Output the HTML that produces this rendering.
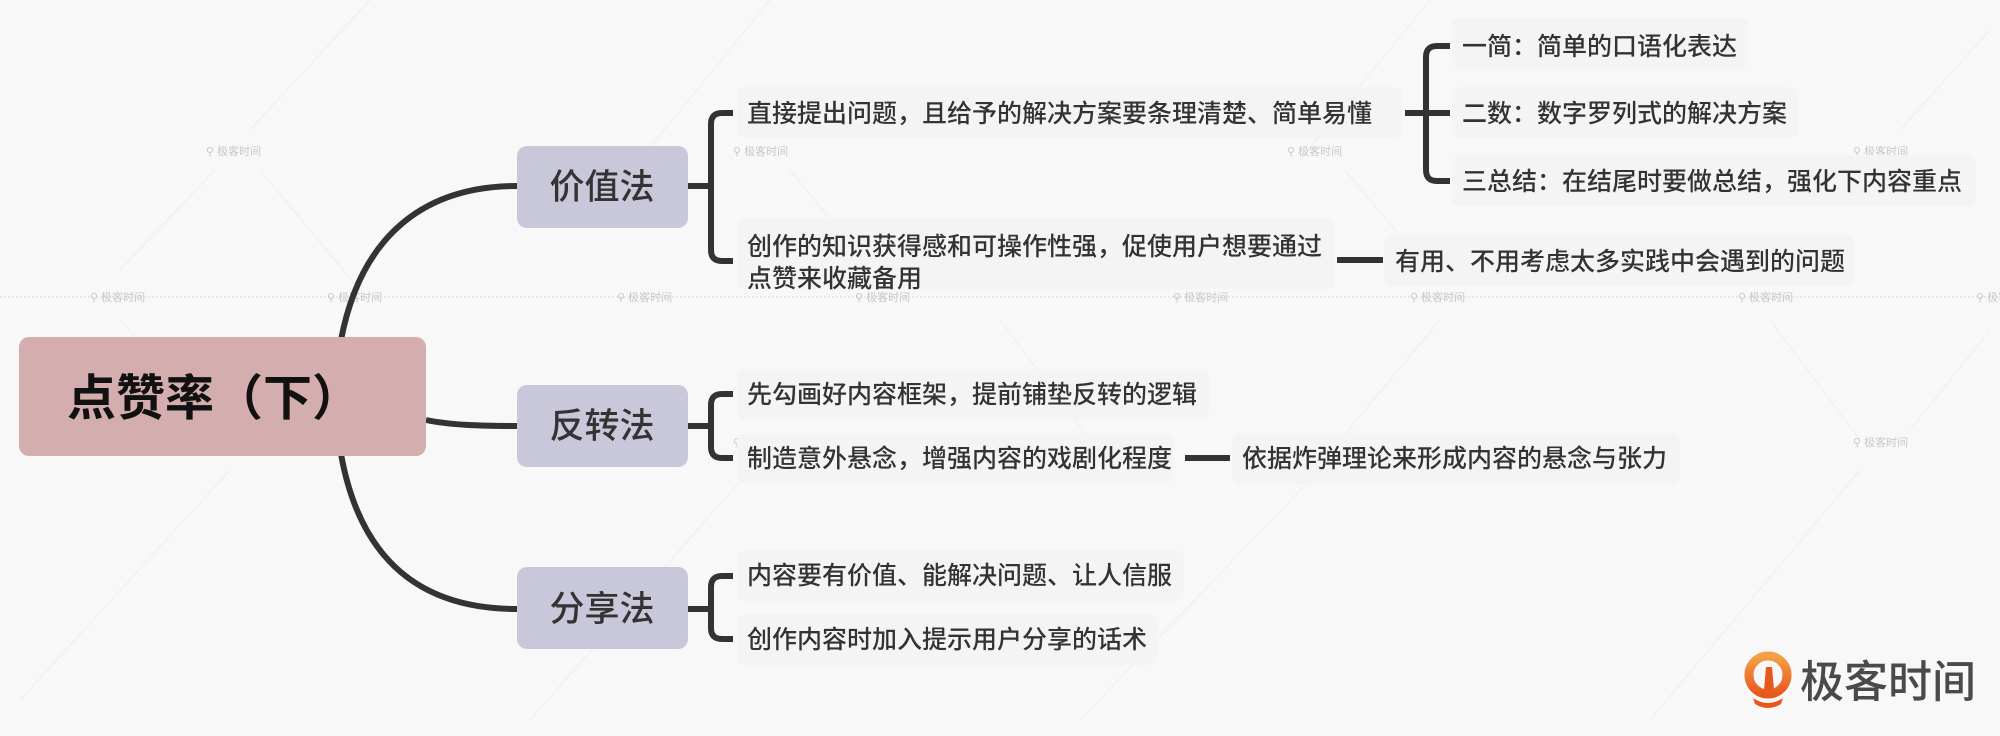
<!DOCTYPE html>
<html><head><meta charset="utf-8"><style>
html,body{margin:0;padding:0;background:#f9f8f9;}
svg{display:block;font-family:"Liberation Sans","Noto Sans CJK SC",sans-serif;}
.t{font-size:25px;fill:#333;font-weight:500;}
.m{font-size:35px;fill:#333;font-weight:500;}
.wm{font-size:11px;fill:#c8c8c8;}
</style></head><body>
<svg width="2000" height="736" viewBox="0 0 2000 736" xmlns="http://www.w3.org/2000/svg">
<rect width="2000" height="736" fill="#f9f8f9"/>
<g stroke="#eeeeee" stroke-width="1">
<line x1="250" y1="130" x2="370" y2="0"/><line x1="120" y1="270" x2="215" y2="170"/>
<line x1="260" y1="170" x2="360" y2="290"/><line x1="120" y1="320" x2="230" y2="440"/>
<line x1="230" y1="470" x2="20" y2="700"/><line x1="770" y1="0" x2="640" y2="160"/>
<line x1="790" y1="170" x2="880" y2="280"/><line x1="1430" y1="0" x2="1300" y2="160"/>
<line x1="1345" y1="170" x2="1420" y2="260"/><line x1="1000" y1="320" x2="1090" y2="440"/>
<line x1="1440" y1="320" x2="1340" y2="440"/><line x1="1310" y1="480" x2="1080" y2="720"/>
<line x1="1770" y1="320" x2="1860" y2="440"/><line x1="1990" y1="30" x2="1900" y2="130"/>
<line x1="1860" y1="470" x2="1650" y2="720"/><line x1="750" y1="470" x2="530" y2="720"/>
<line x1="1990" y1="330" x2="1910" y2="430"/>
</g>
<line x1="0" y1="297" x2="2000" y2="297" stroke="#d8d8d8" stroke-width="1" stroke-dasharray="2,2"/>
<g class="wm">
<text x="206" y="155">⚲ 极客时间</text><text x="733" y="155">⚲ 极客时间</text>
<text x="1287" y="155">⚲ 极客时间</text><text x="1853" y="155">⚲ 极客时间</text>
<text x="90" y="301">⚲ 极客时间</text><text x="327" y="301">⚲ 极客时间</text>
<text x="617" y="301">⚲ 极客时间</text><text x="855" y="301">⚲ 极客时间</text>
<text x="1173" y="301">⚲ 极客时间</text><text x="1410" y="301">⚲ 极客时间</text>
<text x="1738" y="301">⚲ 极客时间</text><text x="1976" y="301">⚲ 极客</text>
<text x="206" y="446">⚲ 极客时间</text><text x="733" y="446">⚲ 极客时间</text>
<text x="1287" y="446">⚲ 极客时间</text><text x="1853" y="446">⚲ 极客时间</text>
</g>
<g fill="#f5f4f5">
<rect x="737" y="87" width="665" height="51" rx="8"/>
<rect x="737" y="218" width="598" height="71" rx="8"/>
<rect x="1452" y="18" width="296" height="51" rx="8"/>
<rect x="1452" y="87" width="346" height="51" rx="8"/>
<rect x="1452" y="155" width="524" height="51" rx="8"/>
<rect x="1384" y="235" width="470" height="51" rx="8"/>
<rect x="737" y="369" width="472" height="51" rx="8"/>
<rect x="737" y="433" width="436" height="51" rx="8"/>
<rect x="1232" y="433" width="448" height="51" rx="8"/>
<rect x="737" y="550" width="447" height="51" rx="8"/>
<rect x="737" y="614" width="420" height="51" rx="8"/>
</g>
<g stroke="#333" stroke-width="6" fill="none" stroke-linecap="butt">
<path d="M341 340 C360 240 420 186 517 186"/>
<path d="M426 420 C450 425 480 426 517 426"/>
<path d="M341 454 C360 560 420 609 517 609"/>
<path d="M688 186 H711"/><path d="M733 113 H722 Q711 113 711 124 V250 Q711 261 722 261 H733"/>
<path d="M688 426 H711"/><path d="M733 394 H722 Q711 394 711 405 V447 Q711 458 722 458 H733"/>
<path d="M688 609 H711"/><path d="M733 576 H722 Q711 576 711 587 V628 Q711 639 722 639 H733"/>
<path d="M1405 113 H1450"/><path d="M1450 46 H1437 Q1426 46 1426 57 V170 Q1426 181 1437 181 H1450"/>
<path d="M1337 260 H1383"/>
<path d="M1185 458 H1230"/>
</g>
<rect x="19" y="337" width="407" height="119" rx="10" fill="#d4aeae"/>
<text x="214" y="415" text-anchor="middle" font-size="49" font-weight="bold" fill="#111">点赞率（下）</text>
<g fill="#c9c8da">
<rect x="517" y="146" width="171" height="82" rx="10"/>
<rect x="517" y="385" width="171" height="82" rx="10"/>
<rect x="517" y="567" width="171" height="82" rx="10"/>
</g>
<text class="m" x="602" y="199" text-anchor="middle">价值法</text>
<text class="m" x="602" y="438" text-anchor="middle">反转法</text>
<text class="m" x="602" y="621" text-anchor="middle">分享法</text>
<text class="t" x="747" y="122">直接提出问题，且给予的解决方案要条理清楚、简单易懂</text>
<text class="t" x="747" y="255">创作的知识获得感和可操作性强，促使用户想要通过</text>
<text class="t" x="747" y="287">点赞来收藏备用</text>
<text class="t" x="1462" y="55">一简：简单的口语化表达</text>
<text class="t" x="1462" y="122">二数：数字罗列式的解决方案</text>
<text class="t" x="1462" y="190">三总结：在结尾时要做总结，强化下内容重点</text>
<text class="t" x="1395" y="270">有用、不用考虑太多实践中会遇到的问题</text>
<text class="t" x="747" y="403">先勾画好内容框架，提前铺垫反转的逻辑</text>
<text class="t" x="747" y="467">制造意外悬念，增强内容的戏剧化程度</text>
<text class="t" x="1242" y="467">依据炸弹理论来形成内容的悬念与张力</text>
<text class="t" x="747" y="584">内容要有价值、能解决问题、让人信服</text>
<text class="t" x="747" y="648">创作内容时加入提示用户分享的话术</text>
<defs><linearGradient id="og" x1="0" y1="0" x2="0" y2="1"><stop offset="0" stop-color="#f3a04a"/><stop offset="1" stop-color="#e8581c"/></linearGradient></defs>
<circle cx="1768" cy="675" r="19" fill="none" stroke="url(#og)" stroke-width="9"/>
<path d="M1764 690 L1766 667 L1772 667 L1774 690 Z" fill="#e8581c"/>
<path d="M1753 698 Q1768 708 1783 698 L1781 704 Q1768 712 1755 704 Z" fill="#e8581c"/>
<text x="1800" y="697" font-size="44" fill="#4a4a4a" font-weight="500">极客时间</text>
</svg>
</body></html>
